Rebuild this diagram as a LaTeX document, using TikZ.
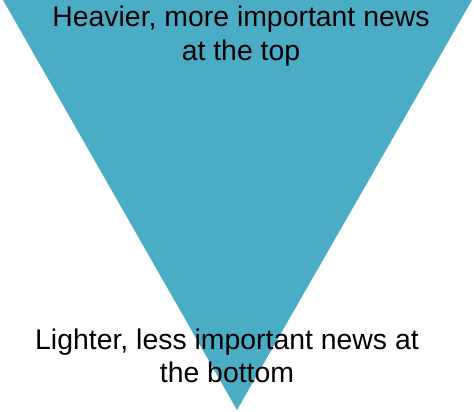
\documentclass[tikz,border=0pt]{standalone}
\usepackage{fontspec}
\setmainfont{Liberation Sans}
\definecolor{funnelblue}{RGB}{75,172,198}
\begin{document}
\begin{tikzpicture}[x=1pt,y=-1pt]
\tikzset{newstext/.style={align=center,anchor=base,font=\fontsize{28.4}{33}\selectfont}}
\useasboundingbox[fill=white] (0,0) rectangle (474,412);
\coordinate (topleft) at (3,0);
\coordinate (topright) at (472,0);
\coordinate (apex) at (237,410);
\fill[funnelblue] (topleft) -- (topright) -- (apex) -- cycle;
\node[newstext] (heavier) at (241,60) {Heavier, more important news\\at the top};
\node[newstext] (lighter) at (227,382) {Lighter, less important news at\\the bottom};
\end{tikzpicture}
\end{document}
